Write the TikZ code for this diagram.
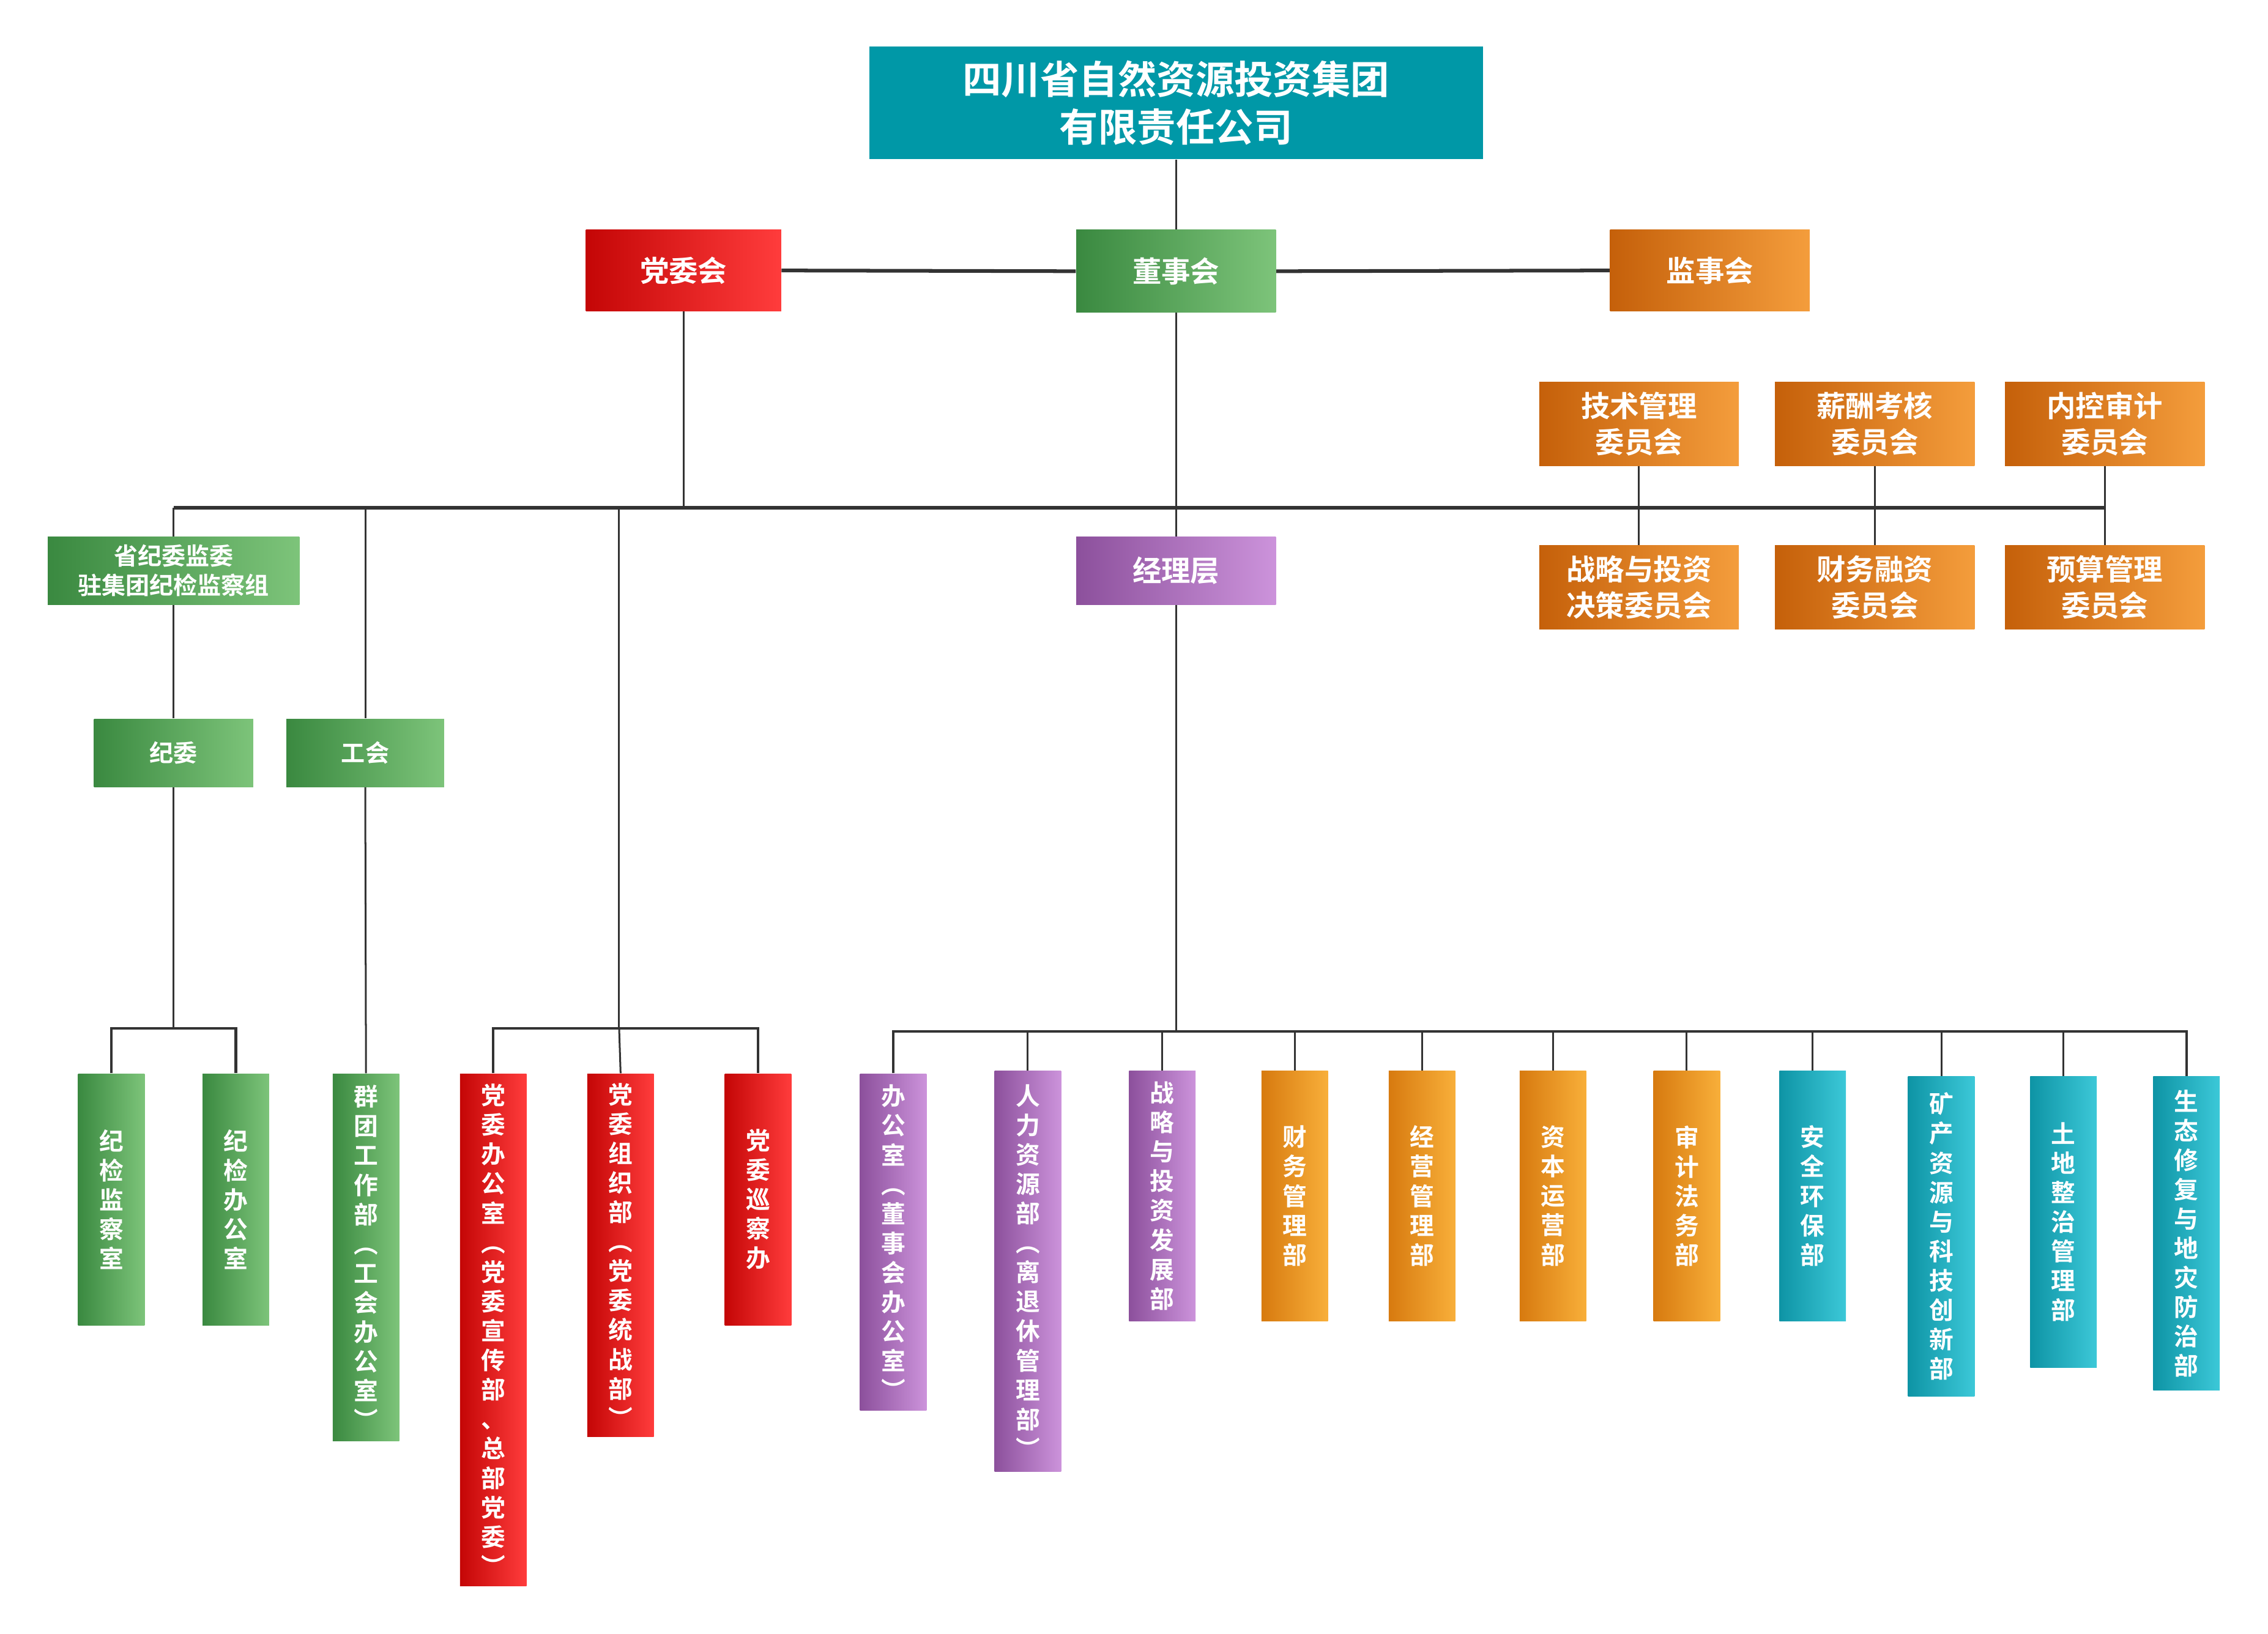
\documentclass[tikz,border=0pt]{standalone}
\usepackage{fontspec}
\usepackage{xcolor}
\newfontfamily\cjk{Noto Sans CJK SC Bold}

\definecolor{tealtop}{RGB}{0,152,167}
\definecolor{redL}{RGB}{196,6,6}
\definecolor{redR}{RGB}{255,60,60}
\definecolor{greenL}{RGB}{58,137,64}
\definecolor{greenR}{RGB}{125,196,122}
\definecolor{orangeL}{RGB}{197,96,10}
\definecolor{orangeR}{RGB}{244,157,60}
\definecolor{purpleL}{RGB}{140,80,156}
\definecolor{purpleR}{RGB}{204,147,219}
\definecolor{yellowL}{RGB}{215,122,15}
\definecolor{yellowR}{RGB}{248,175,58}
\definecolor{cyanL}{RGB}{14,148,165}
\definecolor{cyanR}{RGB}{60,200,216}
\definecolor{wire}{RGB}{51,51,51}

\newlength\px
\setlength\px{0.24875mm}

\tikzset{
  unit/.style={inner sep=0pt, text=white, align=center},
  redbox/.style={unit, left color=redL, right color=redR},
  greenbox/.style={unit, left color=greenL, right color=greenR},
  orangebox/.style={unit, left color=orangeL, right color=orangeR},
  purplebox/.style={unit, left color=purpleL, right color=purpleR},
  yellowbox/.style={unit, left color=yellowL, right color=yellowR},
  cyanbox/.style={unit, left color=cyanL, right color=cyanR},
  dept/.style={anchor=north, minimum width=46\px, font=\cjk\fontsize{11.9}{14.4}\selectfont},
  board/.style={minimum width=138\px, minimum height=57\px, font=\cjk\fontsize{14.2}{17.7}\selectfont},
  wire/.style={draw=wire, line width=0.9pt},
  bus/.style={draw=wire, line width=1.8pt},
  branch/.style={draw=wire, line width=1.3pt}
}

\begin{document}
\begin{tikzpicture}[x=0.24875mm, y=-0.24875mm]

  \useasboundingbox (0,0) rectangle (1567.84,1129.25);

  % top
  \node[unit, fill=tealtop, minimum width=424\px, minimum height=78\px, font=\cjk\fontsize{19}{23.4}\selectfont] (group) at (813,71) {四川省自然资源投资集团\\有限责任公司};

  \node[redbox, board, minimum width=135\px, minimum height=56\px] (dangwei) at (472.5,187) {党委会};
  \node[greenbox, board] (dongshi) at (813,187.5) {董事会};
  \node[orangebox, board, minimum height=56\px] (jianshi) at (1182,187) {监事会};

  % committees
  \node[orangebox, board, minimum height=58\px] (jishu) at (1133,293) {技术管理\\委员会};
  \node[orangebox, board, minimum height=58\px] (xinchou) at (1296,293) {薪酬考核\\委员会};
  \node[orangebox, board, minimum height=58\px] (neikong) at (1455,293) {内控审计\\委员会};
  \node[orangebox, board, minimum height=58\px] (zhanlue) at (1133,406) {战略与投资\\决策委员会};
  \node[orangebox, board, minimum height=58\px] (rongzi) at (1296,406) {财务融资\\委员会};
  \node[orangebox, board, minimum height=58\px] (yusuan) at (1455,406) {预算管理\\委员会};

  % second level
  \node[greenbox, minimum width=174\px, minimum height=47\px, font=\cjk\fontsize{11.7}{14.2}\selectfont] (jijianzu) at (120,394.5) {省纪委监委\\驻集团纪检监察组};
  \node[purplebox, board, minimum height=47\px] (jingli) at (813,394.5) {经理层};
  \node[greenbox, minimum width=110\px, minimum height=47\px, font=\cjk\fontsize{11.7}{14.2}\selectfont] (jiwei) at (120,520.5) {纪委};
  \node[greenbox, minimum width=109\px, minimum height=47\px, font=\cjk\fontsize{11.7}{14.2}\selectfont] (gonghui) at (252.5,520.5) {工会};

  % departments
  \node[greenbox, dept, minimum height=174\px] (jcjcs) at (77,742) {纪\\检\\监\\察\\室};
  \node[greenbox, dept, minimum height=174\px] (jjbgs) at (163,742) {纪\\检\\办\\公\\室};
  \node[greenbox, dept, minimum height=254\px] (qtgzb) at (253,742) {群\\团\\工\\作\\部\\︵\\工\\会\\办\\公\\室\\︶};
  \node[redbox, dept, minimum height=354\px] (dwbgs) at (341,742) {党\\委\\办\\公\\室\\︵\\党\\委\\宣\\传\\部\\、\\总\\部\\党\\委\\︶};
  \node[redbox, dept, minimum height=251\px] (dwzzb) at (429,742) {党\\委\\组\\织\\部\\︵\\党\\委\\统\\战\\部\\︶};
  \node[redbox, dept, minimum height=174\px] (dwxcb) at (524,742) {党\\委\\巡\\察\\办};
  \node[purplebox, dept, minimum height=233\px] (bgs) at (617.5,742) {办\\公\\室\\︵\\董\\事\\会\\办\\公\\室\\︶};
  \node[purplebox, dept, minimum height=277\px] (rlzyb) at (710.5,740) {人\\力\\资\\源\\部\\︵\\离\\退\\休\\管\\理\\部\\︶};
  \node[purplebox, dept, minimum height=173\px] (zltzb) at (803.5,740) {战\\略\\与\\投\\资\\发\\展\\部};
  \node[yellowbox, dept, minimum height=173\px] (cwglb) at (895,740) {财\\务\\管\\理\\部};
  \node[yellowbox, dept, minimum height=173\px] (jyglb) at (983,740) {经\\营\\管\\理\\部};
  \node[yellowbox, dept, minimum height=173\px] (zbyyb) at (1073.5,740) {资\\本\\运\\营\\部};
  \node[yellowbox, dept, minimum height=173\px] (sjfwb) at (1166,740) {审\\计\\法\\务\\部};
  \node[cyanbox, dept, minimum height=173\px] (aqhbb) at (1253,740) {安\\全\\环\\保\\部};
  \node[cyanbox, dept, minimum height=221\px] (kczyb) at (1342,744) {矿\\产\\资\\源\\与\\科\\技\\创\\新\\部};
  \node[cyanbox, dept, minimum height=201\px] (tdzzb) at (1426.5,744) {土\\地\\整\\治\\管\\理\\部};
  \node[cyanbox, dept, minimum height=217\px] (stxfb) at (1511.5,744) {生\\态\\修\\复\\与\\地\\灾\\防\\治\\部};

  % bus points
  \coordinate (busL) at (120,351);
  \coordinate (busR) at (1455,351);
  \coordinate (busdw) at (428,351);
  \coordinate (jwbus) at (120,711);
  \coordinate (dwbus) at (428,711);
  \coordinate (jlbus) at (813,713);

  % connectors
  \draw[wire] (group.south) -- (dongshi.north);
  \draw[bus] (dangwei.east) -- (dongshi.west);
  \draw[bus] (dongshi.east) -- (jianshi.west);
  \draw[wire] (jishu.south) -- (zhanlue.north);
  \draw[wire] (xinchou.south) -- (rongzi.north);
  \draw[wire] (neikong.south) -- (yusuan.north);
  \draw[bus] (busL) -- (busR);
  \draw[wire] (dangwei.south) -- (dangwei |- busL);
  \draw[wire] (dongshi.south) -- (jingli.north);
  \draw[wire] (busL) -- (jijianzu.north);
  \draw[wire] (gonghui |- busL) -- (gonghui.north);
  \draw[wire] (busdw) -- (dwbus);
  \draw[wire] (jijianzu.south) -- (jiwei.north);
  \draw[wire] (jiwei.south) -- (jwbus);
  \draw[wire] (gonghui.south) -- (qtgzb.north);
  \draw[wire] (jingli.south) -- (jlbus);

  \draw[branch] (jcjcs.north) |- (jwbus) -| (jjbgs.north);
  \draw[branch] (dwbgs.north) |- (dwbus) -| (dwxcb.north);
  \draw[wire] (dwbus) -- (dwzzb.north);
  \draw[branch] (bgs.north) |- (jlbus) -| (stxfb.north);
  \draw[wire] (rlzyb.north) -- (rlzyb |- jlbus);
  \draw[wire] (zltzb.north) -- (zltzb |- jlbus);
  \draw[wire] (cwglb.north) -- (cwglb |- jlbus);
  \draw[wire] (jyglb.north) -- (jyglb |- jlbus);
  \draw[wire] (zbyyb.north) -- (zbyyb |- jlbus);
  \draw[wire] (sjfwb.north) -- (sjfwb |- jlbus);
  \draw[wire] (aqhbb.north) -- (aqhbb |- jlbus);
  \draw[wire] (kczyb.north) -- (kczyb |- jlbus);
  \draw[wire] (tdzzb.north) -- (tdzzb |- jlbus);

\end{tikzpicture}
\end{document}
